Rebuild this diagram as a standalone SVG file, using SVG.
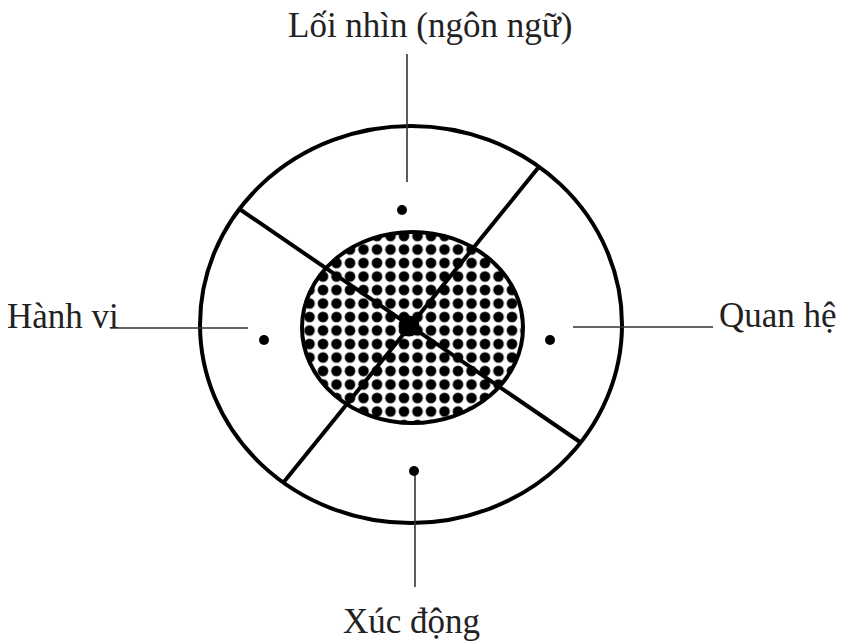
<svg xmlns="http://www.w3.org/2000/svg" width="852" height="643" viewBox="0 0 852 643">
  <style>
    .lbl { font-family: "Liberation Serif", "Times New Roman", serif; font-size: 35px; fill: #222; }
    .thick { stroke: #000; stroke-width: 4; fill: none; }
    .thin { stroke: #333; stroke-width: 1.6; fill: none; }
    .dot { fill: #000; }
  </style>
  <defs>
    <pattern id="dots" patternUnits="userSpaceOnUse" x="343.25" y="256.25" width="13.5" height="13.5">
      <rect width="13.5" height="13.5" fill="#fff"/>
      <circle cx="6.75" cy="6.75" r="5.3" fill="#000"/>
    </pattern>
  </defs>
  <rect width="852" height="643" fill="#fff"/>

  <g id="outer-ring">
    <ellipse cx="411" cy="324.5" rx="211" ry="198.5" fill="#fff" class="thick"/>
  </g>
  <g id="core">
    <ellipse cx="412.5" cy="327.5" rx="110.5" ry="95.5" fill="url(#dots)" stroke="#000" stroke-width="4"/>
  </g>
  <g id="dividers">
    <line class="thick" x1="238" y1="208" x2="580" y2="442"/>
    <line class="thick" x1="538" y1="168" x2="283" y2="483"/>
  </g>
  <g id="center">
    <circle class="dot" cx="409" cy="326" r="10.5"/>
  </g>

  <g id="connectors">
    <line class="thin" x1="407" y1="54" x2="407" y2="182"/>
    <line class="thin" x1="110" y1="328" x2="248" y2="328"/>
    <line class="thin" x1="573" y1="327" x2="713" y2="327"/>
    <line class="thin" x1="415" y1="473" x2="415" y2="587"/>
  </g>

  <g id="node-top">
    <circle class="dot" cx="402" cy="210" r="5"/>
    <text class="lbl" x="288" y="37">Lối nhìn (ngôn ngữ)</text>
  </g>
  <g id="node-left">
    <circle class="dot" cx="264" cy="340" r="5"/>
    <text class="lbl" x="7" y="328">Hành vi</text>
  </g>
  <g id="node-right">
    <circle class="dot" cx="550" cy="340" r="5"/>
    <text class="lbl" x="719" y="327">Quan hệ</text>
  </g>
  <g id="node-bottom">
    <circle class="dot" cx="414" cy="471" r="5"/>
    <text class="lbl" x="343" y="633">Xúc động</text>
  </g>
</svg>
